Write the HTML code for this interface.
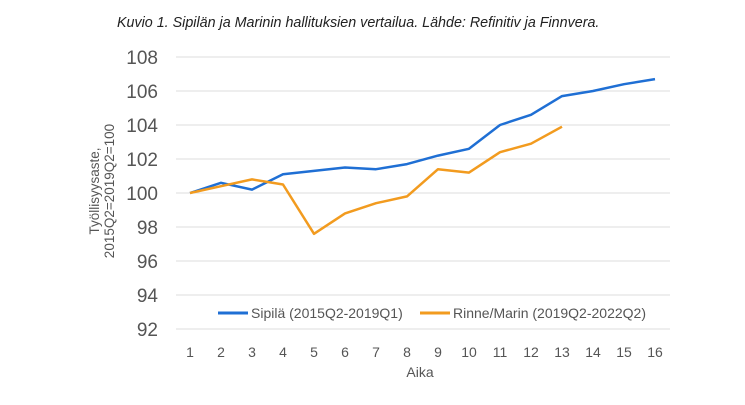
<!DOCTYPE html>
<html><head><meta charset="utf-8"><style>
body{margin:0;background:#fff;}
svg{display:block;font-family:"Liberation Sans",Arial,sans-serif;}
</style></head><body>
<svg width="745" height="405" viewBox="0 0 745 405">
<text x="117" y="27" font-size="14.3" font-style="italic" fill="#222">Kuvio 1. Sipilän ja Marinin hallituksien vertailua. Lähde: Refinitiv ja Finnvera.</text>
<g stroke="#dcdcdc" stroke-width="1">
<line x1="176" x2="670" y1="57" y2="57"/><line x1="176" x2="670" y1="91" y2="91"/>
<line x1="176" x2="670" y1="125" y2="125"/><line x1="176" x2="670" y1="159" y2="159"/>
<line x1="176" x2="670" y1="193" y2="193"/><line x1="176" x2="670" y1="227" y2="227"/>
<line x1="176" x2="670" y1="261" y2="261"/><line x1="176" x2="670" y1="295" y2="295"/>
<line x1="176" x2="670" y1="329" y2="329"/>
</g>
<g font-size="19" fill="#555" text-anchor="end">
<text x="158" y="64">108</text><text x="158" y="98">106</text><text x="158" y="132">104</text>
<text x="158" y="166">102</text><text x="158" y="200">100</text><text x="158" y="234">98</text>
<text x="158" y="268">96</text><text x="158" y="302">94</text><text x="158" y="336">92</text>
</g>
<g font-size="14" fill="#555" text-anchor="middle">
<text x="190" y="357">1</text><text x="221" y="357">2</text><text x="252" y="357">3</text><text x="283" y="357">4</text>
<text x="314" y="357">5</text><text x="345" y="357">6</text><text x="376" y="357">7</text><text x="407" y="357">8</text>
<text x="438" y="357">9</text><text x="469" y="357">10</text><text x="500" y="357">11</text><text x="531" y="357">12</text>
<text x="562" y="357">13</text><text x="593" y="357">14</text><text x="624" y="357">15</text><text x="655" y="357">16</text>
<text x="420" y="377">Aika</text>
</g>
<g font-size="13.5" fill="#555" text-anchor="middle" transform="translate(99,191) rotate(-90)">
<text x="0" y="0">Työllisyysaste,</text><text x="0" y="15">2015Q2=2019Q2=100</text>
</g>
<polyline fill="none" stroke="#1f6fd4" stroke-width="2.5" stroke-linejoin="round"
points="190,193 221,182.8 252,189.6 283,174.3 314,170.9 345,167.5 376,169.2 407,164.1 438,155.6 469,148.8 500,125 531,114.8 562,96.1 593,91 624,84.2 655,79.1"/>
<polyline fill="none" stroke="#f29b1f" stroke-width="2.5" stroke-linejoin="round"
points="190,193 221,186.2 252,179.4 283,184.5 314,233.8 345,213.4 376,203.2 407,196.4 438,169.2 469,172.6 500,152.2 531,143.7 562,126.7"/>
<line x1="218" x2="248" y1="313" y2="313" stroke="#1f6fd4" stroke-width="3"/>
<text x="251" y="318" font-size="14" fill="#555">Sipilä (2015Q2-2019Q1)</text>
<line x1="420" x2="450" y1="313" y2="313" stroke="#f29b1f" stroke-width="3"/>
<text x="453" y="318" font-size="14" fill="#555">Rinne/Marin (2019Q2-2022Q2)</text>
</svg>
</body></html>
